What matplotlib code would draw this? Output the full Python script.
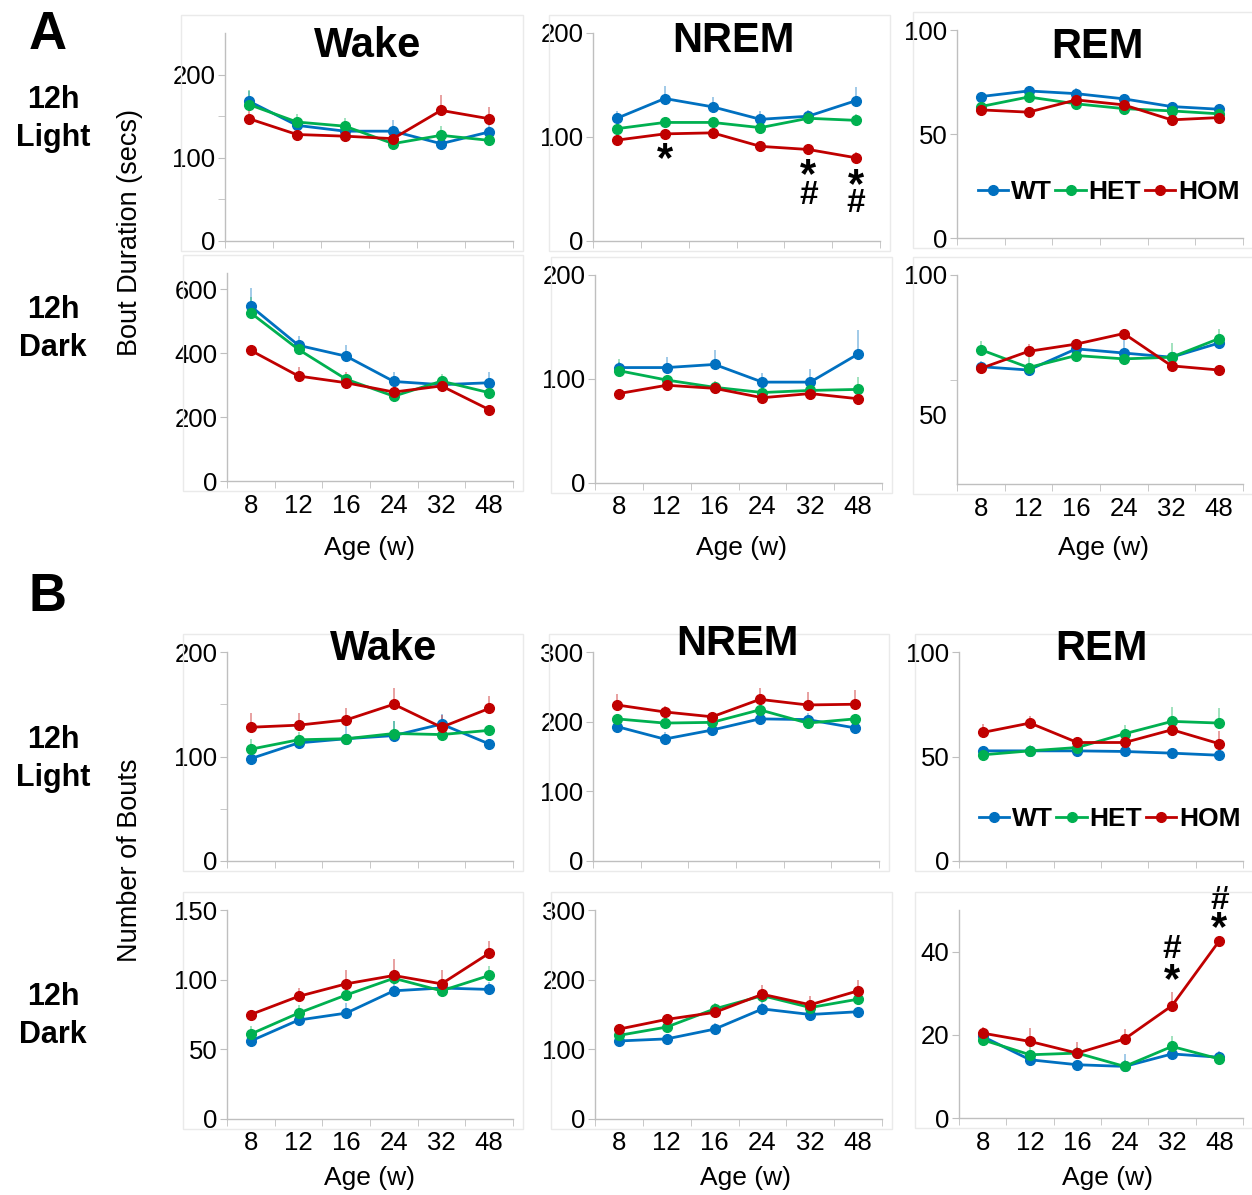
import matplotlib
matplotlib.use('Agg')
import matplotlib.pyplot as plt
from matplotlib.patches import Rectangle

plt.rcParams['font.family'] = ['Liberation Sans', 'DejaVu Sans']

# ---------------- data ----------------
ages = ['8', '12', '16', '24', '32', '48']
groups = ['WT', 'HET', 'HOM']
colors = ['#0070C0', '#00B050', '#C00000']

# A: Bout duration (secs)  rows = WT, HET, HOM
A_light_wake = [[168, 139, 132, 132, 117, 131],
                [164, 143, 138, 117, 127, 121],
                [147, 128, 126, 123, 157, 147]]
A_light_wake_err = [[12, 8, 6, 13, 6, 8],
                    [17, 10, 10, 5, 11, 5],
                    [10, 4, 4, 5, 19, 14]]
A_light_nrem = [[118, 137, 129, 117, 120, 135],
                [108, 114, 114, 109, 118, 116],
                [97, 103, 104, 91, 88, 80]]
A_light_nrem_err = [[7, 12, 9, 8, 6, 13],
                    [4, 5, 4, 4, 5, 6],
                    [5, 4, 4, 5, 5, 6]]
A_light_rem = [[68, 70.7, 69.4, 66.9, 63.2, 61.9],
               [63.2, 67.8, 64.5, 62.2, 61.1, 59.7],
               [61.6, 60.5, 66.4, 64, 56.8, 57.9]]
A_light_rem_err = [[1.5, 2.5, 2.5, 2, 2, 1.5],
                   [1.5, 2, 1.5, 1.5, 1.5, 1.5],
                   [1.5, 1.5, 2, 2, 1.5, 1.5]]
A_dark_wake = [[546, 424, 390, 311, 301, 307],
               [525, 411, 318, 265, 312, 276],
               [408, 328, 307, 278, 297, 223]]
A_dark_wake_err = [[57, 28, 36, 29, 10, 35],
                   [50, 15, 15, 10, 23, 15],
                   [15, 28, 33, 10, 12, 8]]
A_dark_nrem = [[111, 111, 114, 97, 97, 124],
               [108, 99, 92, 87, 89, 90],
               [86, 94, 91, 82, 86, 81]]
A_dark_nrem_err = [[5, 10, 14, 9, 13, 23],
                   [11, 4, 3, 3, 3, 12],
                   [3, 3, 7, 3, 3, 3]]
A_dark_rem = [[67.1, 65.9, 73.5, 72, 70.5, 75.6],
              [73.2, 66.8, 71.1, 69.9, 70.5, 77.2],
              [66.5, 72.6, 75.2, 79, 67.4, 65.9]]
A_dark_rem_err = [[2, 1.5, 2, 5, 2, 2],
                  [3, 4, 2, 2, 5, 3.3],
                  [1.5, 2.5, 2, 1.5, 1.5, 1.5]]

# B: Number of bouts
B_light_wake = [[98, 113, 117, 120, 131, 112],
                [107, 116, 117, 122, 121, 125],
                [128, 130, 135, 150, 128, 146]]
B_light_wake_err = [[5, 5, 12, 14, 10, 5],
                    [10, 7, 5, 12, 4, 5],
                    [14, 12, 11, 16, 12, 12]]
B_light_nrem = [[193, 175, 188, 204, 203, 191],
                [204, 198, 199, 217, 198, 204],
                [224, 214, 207, 232, 224, 225]]
B_light_nrem_err = [[5, 10, 5, 5, 10, 5],
                    [5, 5, 5, 6, 5, 5],
                    [16, 8, 5, 16, 19, 20]]
B_light_rem = [[52.7, 52.7, 52.7, 52.4, 51.6, 50.6],
               [50.8, 52.7, 54.3, 60.9, 66.8, 66],
               [61.5, 66, 56.7, 56.7, 62.8, 56.1]]
B_light_rem_err = [[2, 1.5, 1.5, 1.5, 2.5, 1.5],
                   [1.5, 3, 2, 4, 7, 7],
                   [4, 3.6, 2.5, 2, 2.5, 6]]
B_dark_wake = [[56, 71, 76, 92, 94, 93],
               [61, 76, 89, 101, 92, 103],
               [75, 88, 97, 103, 97, 119]]
B_dark_wake_err = [[3, 3, 7, 5, 4, 5],
                   [6, 6, 4, 4, 4, 7],
                   [3, 6, 10, 12, 10, 9]]
B_dark_nrem = [[112, 115, 129, 158, 150, 154],
               [120, 132, 158, 177, 160, 172],
               [129, 143, 153, 179, 164, 184]]
B_dark_nrem_err = [[4, 5, 9, 10, 5, 5],
                   [4, 6, 8, 6, 5, 6],
                   [6, 8, 5, 13, 12, 15]]
B_dark_rem = [[19.6, 14, 12.8, 12.4, 15.4, 14.6],
              [18.8, 15.2, 15.6, 12.4, 17.2, 14.2],
              [20.4, 18.4, 15.6, 19, 27, 42.6]]
B_dark_rem_err = [[1, 1, 1, 3, 1, 1.5],
                  [1, 2, 1.5, 1.5, 2.4, 1],
                  [1.5, 3.2, 2.6, 2.4, 3.4, 1]]

# significance marks (category index, y value)
A_nrem_star_x = [1, 4, 5]
A_nrem_star_y = [84, 68, 59]
A_nrem_hash_x = [4, 5]
A_nrem_hash_y = [44, 36]
B_rem_star_x = [4, 5]
B_rem_star_y = [34.4, 46.8]
B_rem_hash_x = [4, 5]
B_rem_hash_y = [40.4, 52.4]

# ---------------- figure ----------------
W, H = 1252, 1195
fig = plt.figure(figsize=(W / 100, H / 100), dpi=100)
GRAY = '#BFBFBF'
TICKFS = 18.5


def add_ax(l, t, r, b):
    # faint chart-area frame
    fig.add_artist(Rectangle(((l - 44) / W, 1 - (b + 10) / H), (r - l + 54) / W,
                             (b - t + 28) / H, transform=fig.transFigure,
                             fill=False, ec='#EAEAEA', lw=1))
    return fig.add_axes([l / W, 1 - b / H, (r - l) / W, (b - t) / H])


def draw(ax, data, err, ylim, yticks, minor=None, bottom=False):
    x = list(range(len(ages)))
    lines = []
    for g in range(3):
        ax.errorbar(x, data[g], yerr=[[0] * len(x), err[g]], fmt='none',
                    ecolor=colors[g], alpha=0.4, elinewidth=1.3, capsize=0,
                    zorder=2)
        ln, = ax.plot(x, data[g], color=colors[g], lw=2.0, marker='o', ms=7,
                      zorder=3 + g, label=groups[g])
        lines.append(ln)
    ax.set_xlim(-0.5, len(ages) - 0.5)
    ax.set_ylim(*ylim)
    for s in ['top', 'right']:
        ax.spines[s].set_visible(False)
    for s in ['left', 'bottom']:
        ax.spines[s].set_color(GRAY)
        ax.spines[s].set_linewidth(1.0)
    ax.set_xticks(x)
    ax.set_xticks([i - 0.5 for i in range(len(ages) + 1)], minor=True)
    ax.tick_params(axis='x', which='major', length=0, pad=9, labelsize=TICKFS)
    ax.tick_params(axis='x', which='minor', length=5, color=GRAY, direction='out')
    if bottom:
        ax.set_xticklabels(ages)
    else:
        ax.set_xticklabels([])
    ax.set_yticks(yticks)
    ax.set_yticklabels([str(int(v)) for v in yticks])
    if minor is not None:
        ax.set_yticks(minor, minor=True)
        ax.tick_params(axis='y', which='minor', length=5, color=GRAY)
    ax.tick_params(axis='y', which='major', length=5, color=GRAY, pad=2,
                   labelsize=TICKFS)
    ax.patch.set_alpha(0)
    return lines


def marks(ax, xs, ys, s, fs, dy):
    for xi, yi in zip(xs, ys):
        ax.annotate(s, (xi, yi), xytext=(0, dy), textcoords='offset pixels',
                    ha='center', va='center', fontsize=fs, fontweight='bold',
                    annotation_clip=False)


def legend(ax, handles, yc):
    ax.legend(handles=handles, loc='center', bbox_to_anchor=(0.53, yc), ncol=3,
              frameon=False, handlelength=1.15, handletextpad=0.1,
              columnspacing=0.15, borderaxespad=0,
              prop={'weight': 'bold', 'size': 19})


# Panel A
ax = add_ax(225, 33, 513, 241)
lines = draw(ax, A_light_wake, A_light_wake_err, (0, 250), [0, 100, 200],
             minor=[50, 150])
ax = add_ax(593, 33, 880, 241)
draw(ax, A_light_nrem, A_light_nrem_err, (0, 200), [0, 100, 200])
marks(ax, A_nrem_star_x, A_nrem_star_y, '*', 30, -6)
marks(ax, A_nrem_hash_x, A_nrem_hash_y, '#', 24, 0)
ax = add_ax(957, 30, 1243, 238)
draw(ax, A_light_rem, A_light_rem_err, (0, 100), [0, 50, 100])
legend(ax, lines, 0.22)

ax = add_ax(227, 273, 513, 481)
draw(ax, A_dark_wake, A_dark_wake_err, (0, 650), [0, 200, 400, 600], bottom=True)
ax = add_ax(595, 275, 882, 483)
draw(ax, A_dark_nrem, A_dark_nrem_err, (0, 200), [0, 100, 200], bottom=True)
ax = add_ax(957, 275, 1243, 484)
draw(ax, A_dark_rem, A_dark_rem_err, (25, 100), [50, 100], minor=[62.5], bottom=True)
ax.yaxis.get_major_ticks()[0].tick1line.set_visible(False)

# Panel B
ax = add_ax(227, 652, 513, 861)
draw(ax, B_light_wake, B_light_wake_err, (0, 200), [0, 100, 200], minor=[50, 150])
ax = add_ax(593, 652, 879, 861)
draw(ax, B_light_nrem, B_light_nrem_err, (0, 300), [0, 100, 200, 300])
ax = add_ax(959, 652, 1243, 861)
lines = draw(ax, B_light_rem, B_light_rem_err, (0, 100), [0, 50, 100])
legend(ax, lines, 0.2)

ax = add_ax(227, 910, 513, 1119)
draw(ax, B_dark_wake, B_dark_wake_err, (0, 150), [0, 50, 100, 150], bottom=True)
ax = add_ax(595, 910, 882, 1119)
draw(ax, B_dark_nrem, B_dark_nrem_err, (0, 300), [0, 100, 200, 300], bottom=True)
ax = add_ax(959, 910, 1243, 1118)
draw(ax, B_dark_rem, B_dark_rem_err, (0, 50), [0, 20, 40], bottom=True)
marks(ax, B_rem_star_x, B_rem_star_y, '*', 30, -6)
marks(ax, B_rem_hash_x, B_rem_hash_y, '#', 24, 0)


# Figure-level text
def ftext(x, y, s, **kw):
    fig.text(x / W, 1 - y / H, s, **kw)


for (xx, yy, s) in [(368, 46, 'Wake'), (733, 41, 'NREM'), (1097, 47, 'REM'),
                    (384, 649, 'Wake'), (737, 644, 'NREM'), (1101, 649, 'REM')]:
    ftext(xx, yy, s, fontsize=30, fontweight='bold', ha='center', va='center')

for (xx, yy) in [(369, 548), (741, 548), (1104, 548),
                 (369, 1178), (745, 1178), (1108, 1178)]:
    ftext(xx, yy, 'Age (w)', fontsize=19, ha='center', va='center')

ftext(48, 35, 'A', fontsize=38, fontweight='bold', ha='center', va='center')
ftext(48, 597, 'B', fontsize=38, fontweight='bold', ha='center', va='center')
for (yy, s) in [(100, '12h'), (138, 'Light'), (310, '12h'), (348, 'Dark'),
                (740, '12h'), (778, 'Light'), (997, '12h'), (1035, 'Dark')]:
    ftext(53, yy, s, fontsize=22, fontweight='bold', ha='center', va='center')
ftext(130, 233, 'Bout Duration (secs)', fontsize=19.5, rotation=90,
      ha='center', va='center')
ftext(130, 860, 'Number of Bouts', fontsize=19.5, rotation=90,
      ha='center', va='center')

fig.savefig('out.png', dpi=100, facecolor='white')
